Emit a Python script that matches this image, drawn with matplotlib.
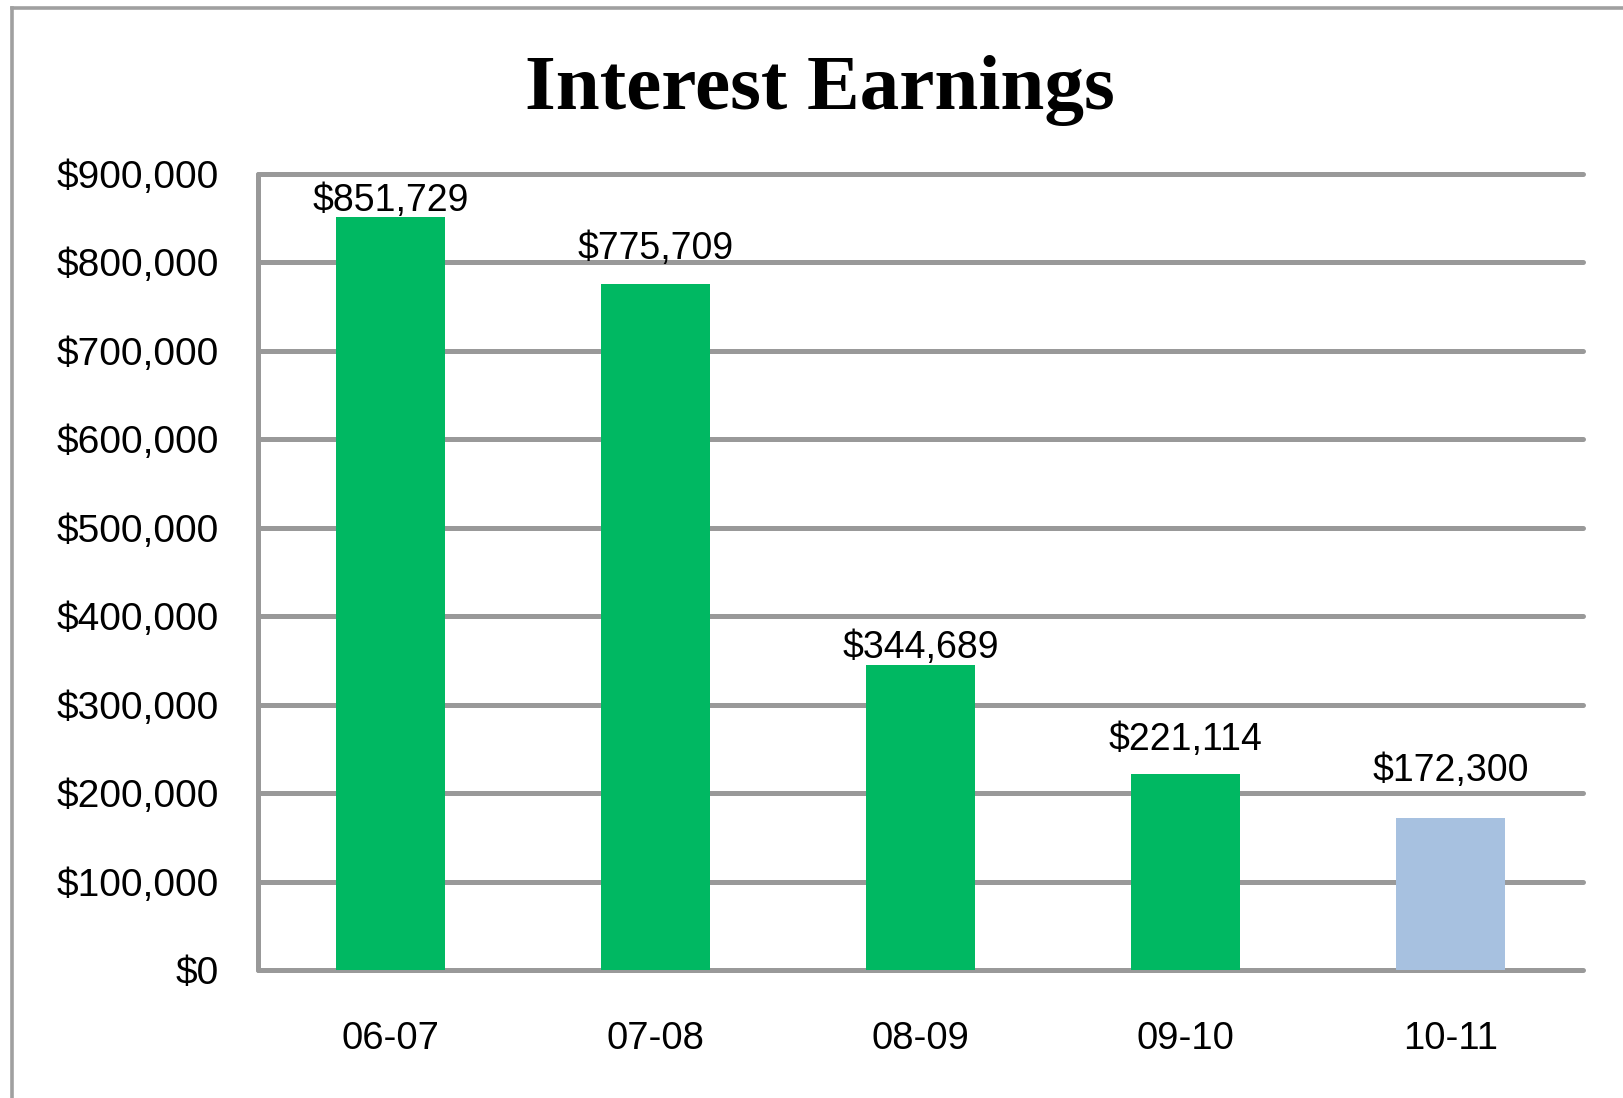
import matplotlib
matplotlib.use("Agg")
import matplotlib.pyplot as plt
from matplotlib.lines import Line2D
from matplotlib.ticker import FuncFormatter

plt.rcParams['text.parse_math'] = False

categories = ["06-07", "07-08", "08-09", "09-10", "10-11"]
values = [851729, 775709, 344689, 221114, 172300]
bar_colors = ["#00B862", "#00B862", "#00B862", "#00B862", "#A7C1E0"]
yticks = [0, 100000, 200000, 300000, 400000, 500000, 600000, 700000, 800000, 900000]
title = "Interest Earnings"
# gap (in pixels) between each bar top and its label baseline, as in the original
label_gaps_px = [6, 25, 7, 24, 37]

W, H = 1623, 1098
fig = plt.figure(figsize=(W / 100, H / 100), dpi=100)
fig.patch.set_facecolor("white")

# outer frame
frame_col = "#a0a0a0"
fig.add_artist(Line2D([12 / W, 12 / W], [0, 1 - 8 / H], transform=fig.transFigure,
                      color=frame_col, lw=2.6, solid_capstyle="projecting"))
fig.add_artist(Line2D([12 / W, 1.0], [1 - 8 / H, 1 - 8 / H], transform=fig.transFigure,
                      color=frame_col, lw=2.6, solid_capstyle="projecting"))

ax = fig.add_axes([258 / W, 1 - 970 / H, (1583 - 258) / W, (970 - 174) / H])
ax.set_xlim(-0.5, len(categories) - 0.5)
ax.set_ylim(0, 900000)

grid_col = "#999999"
for yv in yticks:
    ax.axhline(yv, color=grid_col, lw=3.6, solid_capstyle="round", zorder=1, clip_on=False)

x = list(range(len(categories)))
ax.bar(x, values, width=0.41, color=bar_colors, zorder=2)

for xi, v, g in zip(x, values, label_gaps_px):
    ax.annotate("${:,}".format(v), xy=(xi, v), xytext=(0, g * 0.72),
                textcoords="offset points", ha="center", va="baseline",
                fontsize=27, family="Liberation Sans", color="black", zorder=3)

for s in ["top", "right", "bottom"]:
    ax.spines[s].set_visible(False)
ax.spines["left"].set_color(grid_col)
ax.spines["left"].set_linewidth(3.6)
ax.spines["left"].set_capstyle("round")

ax.set_yticks(yticks)
ax.yaxis.set_major_formatter(FuncFormatter(lambda v, p: "${:,.0f}".format(v)))
ax.tick_params(axis="y", length=0, pad=28, labelsize=28)
ax.set_xticks(x)
ax.set_xticklabels(categories)
ax.tick_params(axis="x", length=0, pad=37, labelsize=27.5)
for lab in ax.get_xticklabels() + ax.get_yticklabels():
    lab.set_family("Liberation Sans")

fig.text(820 / W, 1 - 90 / H, title, ha="center", va="center",
         fontsize=57, fontweight="bold", family="Liberation Serif")

fig.savefig("out.png", dpi=100, facecolor="white")
